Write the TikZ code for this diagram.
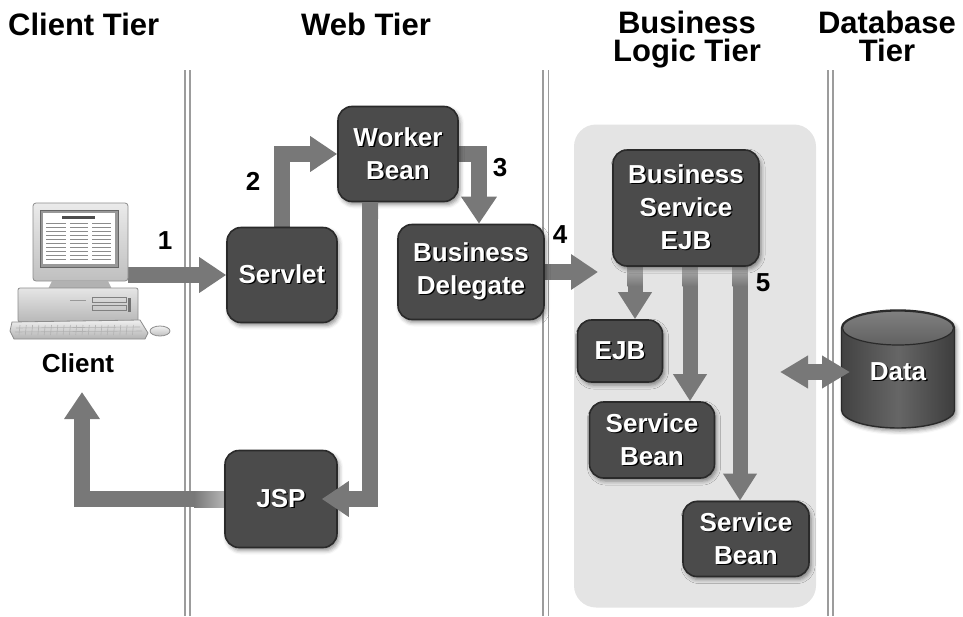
\documentclass[tikz,border=0pt]{standalone}
\usepackage{fontspec}
\setmainfont{Liberation Sans}
\usetikzlibrary{arrows.meta,shadows.blur,calc}
\definecolor{arrowgray}{HTML}{787878}
\definecolor{boxfill}{HTML}{4B4B4B}
\definecolor{boxedge}{HTML}{2A2A2A}
\definecolor{panelgray}{HTML}{E4E4E4}
\definecolor{sepgray}{HTML}{9C9C9C}
\pgfdeclarelayer{flows}
\pgfdeclarelayer{front}
\pgfsetlayers{flows,main,front}
% white label text with a dark drop shadow
\newcommand\lbl[1]{\makebox[0pt][l]{\raisebox{-1.3pt}{\hspace{1.3pt}\textcolor{black}{#1}}}#1}
\begin{document}
\begin{tikzpicture}[x=1pt,y=-1pt,
  tier/.style={font=\fontsize{31}{28}\selectfont\bfseries, align=center, inner sep=0},
  num/.style={font=\fontsize{26}{26}\selectfont\bfseries, inner sep=0},
  comp/.style={rounded corners=14pt, fill=boxfill, draw=boxedge, line width=1.6pt,
    text=white, font=\fontsize{26}{33}\selectfont\bfseries, align=center, inner sep=0,
    blur shadow={shadow xshift=2pt, shadow yshift=-3pt, shadow blur radius=4pt, shadow opacity=45}},
  flow/.style={draw=arrowgray, line width=16pt, line join=miter,
    -{Triangle[width=34pt,length=27pt]}},
  branch/.style={draw=arrowgray, line width=15pt,
    -{Triangle[width=32pt,length=27pt]}},
  both/.style={draw=arrowgray, line width=16pt,
    {Triangle[width=31pt,length=28pt]}-{Triangle[width=31pt,length=28pt]}},
  separator/.style={draw=sepgray, line width=1.8pt, double=white, double distance=3.4pt},
  fadeh/.style={left color=arrowgray, right color=black!28},
  fadev/.style={top color=black!30, bottom color=arrowgray},
]
\useasboundingbox (0,0) rectangle (963,616);

% ---------- tier headings ----------
\node[tier, anchor=base west] (hclient) at (8,35) {Client Tier};
\node[tier, anchor=base] (hweb) at (366,35) {Web Tier};
\node[tier, anchor=north] (hbiz) at (687,11) {Business\\Logic Tier};
\node[tier, anchor=north] (hdb) at (887,11) {Database\\Tier};

% ---------- components ----------
\node[comp, minimum width=110, minimum height=95] (servlet) at (282,275) {\lbl{Servlet}};
\node[comp, minimum width=120, minimum height=95] (worker) at (398,154) {\lbl{Worker}\\\lbl{Bean}};
\node[comp, minimum width=146, minimum height=95] (delegate) at (471,272) {\lbl{Business}\\\lbl{Delegate}};
\node[comp, minimum width=112, minimum height=97] (jsp) at (281,499) {\lbl{JSP}};
\node[comp, minimum width=146, minimum height=116] (bse) at (686,208) {\lbl{Business}\\\lbl{Service}\\\lbl{EJB}};
\node[comp, minimum width=85, minimum height=62] (ejb) at (620,351) {\lbl{EJB}};
\node[comp, minimum width=125, minimum height=76] (sb1) at (652,440) {\lbl{Service}\\\lbl{Bean}};
\node[comp, minimum width=126, minimum height=75] (sb2) at (746,539) {\lbl{Service}\\\lbl{Bean}};

% database cylinder
\path[blur shadow={shadow xshift=2pt, shadow yshift=-3pt, shadow blur radius=4pt, shadow opacity=45},
  fill=black!65]
  (841.5,328) -- (841.5,410) arc[start angle=180, end angle=0, x radius=56.5, y radius=18]
  -- (954.5,328) arc[start angle=0, end angle=-180, x radius=56.5, y radius=18] -- cycle;
\shade[left color=black!74, right color=black!76, middle color=black!60]
  (841.5,328) -- (841.5,410) arc[start angle=180, end angle=0, x radius=56.5, y radius=18]
  -- (954.5,328) arc[start angle=0, end angle=-180, x radius=56.5, y radius=18] -- cycle;
\draw[boxedge, line width=1.4pt]
  (841.5,328) -- (841.5,410) arc[start angle=180, end angle=0, x radius=56.5, y radius=18]
  -- (954.5,328) arc[start angle=0, end angle=-180, x radius=56.5, y radius=18] -- cycle;
\draw[boxedge, line width=1.2pt, top color=black!50, bottom color=black!62] (898,328) ellipse (55.5 and 17);
\node[inner sep=0, minimum width=113, minimum height=118, text=white,
  font=\fontsize{26}{33}\selectfont\bfseries] (data) at (898,372) {\lbl{Data}};

% ---------- client workstation ----------
\coordinate (pcout) at (128,275);
\coordinate (back) at (82,392);
\coordinate (bizin) at (598,272);
% monitor
\draw[black!45, line width=0.8pt, top color=black!8, bottom color=black!25, rounded corners=3pt]
  (33,203) rectangle (128,281);
\draw[black!60, fill=black!40] (40,210) rectangle (118,267);
\fill[white] (43,213) rectangle (115,264);
\fill[black!70] (62,216) rectangle (95,219);
\foreach \r in {223,227,231,235,239,243,247,251,255,259}{
  \draw[black!45, line width=1pt] (46,\r) -- (66,\r);
  \draw[black!45, line width=1pt] (70,\r) -- (88,\r);
  \draw[black!45, line width=1pt] (92,\r) -- (111,\r);
}
% stand
\fill[black!30] (52,281) -- (108,281) -- (113,291) -- (47,291) -- cycle;
% system unit
\draw[black!45, line width=0.8pt, top color=black!10, bottom color=black!28, rounded corners=2pt]
  (18,288) rectangle (138,322);
\draw[black!50] (92,297) rectangle (126,302);
\draw[black!50] (92,305) rectangle (126,310);
\fill[black!55] (128,298) rectangle (131,312);
\draw[black!40] (70,300) -- (86,300);
% keyboard
\draw[black!45, line width=0.8pt, top color=black!6, bottom color=black!30]
  (12,322) -- (140,320) -- (148,333) -- (145,339) -- (14,339) -- (10,331) -- cycle;
\foreach \k in {0,...,18}{
  \draw[black!30, line width=0.6pt] ({20+\k*6.3},325) -- ({19+\k*6.3},335);
}
\draw[black!30, line width=0.6pt] (16,328) -- (140,327);
\draw[black!30, line width=0.6pt] (15,332) -- (142,331);
% mouse
\draw[black!45, line width=0.8pt, top color=black!5, bottom color=black!25]
  (160,331) ellipse (10 and 5);
\node[num] (clientlabel) at (78,363) {Client};

% ---------- panel, separators and request flow (below the components) ----------
\begin{pgfonlayer}{flows}
  \node[fill=panelgray, rounded corners=22pt, minimum width=242, minimum height=483, inner sep=0]
    (bizpanel) at (695,366) {};
  \draw[separator] (187.3,70) -- (187.3,616);
  \draw[separator] (545.8,70) -- (545.8,616);
  \draw[separator] (830.2,70) -- (830.2,616);
  \draw[flow] (pcout) -- (servlet.west);
  \draw[flow] (servlet.north) |- (worker.west);
  \draw[flow] (worker.east) -| ([xshift=8]delegate.north);
  \draw[flow] (delegate.east) -- (bizin);
  \draw[branch] ([xshift=15]ejb.north |- bse.south) -- ([xshift=15]ejb.north);
  \draw[branch] ([xshift=38]sb1.north |- bse.south) -- ([xshift=38]sb1.north);
  \draw[branch] ([xshift=-6]sb2.north |- bse.south) -- ([xshift=-6]sb2.north);
  \draw[flow] (jsp.west) -| (back);
  % soft glow where the flows leave the components
  \shade[fadeh] (194,491) rectangle (226,507);
  \shade[fadev] (627.5,266) rectangle (642.5,286);
  \shade[fadev] (682.5,266) rectangle (697.5,286);
  \shade[fadev] (732.5,266) rectangle (747.5,286);
  \shade[fadev] (362,202) rectangle (378,218);
\end{pgfonlayer}
\begin{pgfonlayer}{front}
  \draw[flow] ([xshift=-28]worker.south) |- ([xshift=-16]jsp.east);
  \draw[both] ([xshift=-118]data.center) -- ([xshift=-48]data.center);
\end{pgfonlayer}

% ---------- step numbers ----------
\node[num] (n1) at (165,241) {1};
\node[num] (n2) at (253,181) {2};
\node[num] (n3) at (500,168) {3};
\node[num] (n4) at (560,235) {4};
\node[num] (n5) at (763,283) {5};
\end{tikzpicture}
\end{document}
